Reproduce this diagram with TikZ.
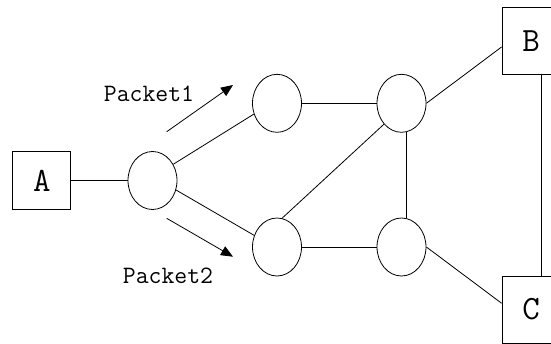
\documentclass[tikz,border=0pt]{standalone}
\usepackage{tikz}
\usetikzlibrary{shapes, arrows.meta, calc}

\begin{document}
\begin{tikzpicture}[x=1pt, y=-1pt, line width=0.8pt,
	router/.style={draw, ellipse, minimum width=49pt, minimum height=58pt, inner sep=0pt},
	host/.style={draw, rectangle, minimum width=58pt, minimum height=58pt, inner sep=0pt, font=\fontsize{34}{34}\selectfont\ttfamily},
	tallhost/.style={host, minimum height=67pt},
	packet/.style={anchor=base, inner sep=0pt, font=\fontsize{25}{25}\selectfont\ttfamily},
	flow/.style={-{Triangle[length=12pt, width=10pt]}}]
				\useasboundingbox (0,0) rectangle (551,343);
				
				\node [host] (A) at (41.8,180.5) {A};
				\node [tallhost] (B) at (531,40.7) {B};
				\node [tallhost] (C) at (531,309.5) {C};
				
				\node [router] (r1) at (152.5,180.5) {};
				\node [router] (r2) at (277,103.3) {};
				\node [router] (r3) at (277,247) {};
				\node [router] (r4) at (401.5,103.3) {};
				\node [router] (r5) at (401.5,247) {};
				
				\draw (A.east) -- (r1.west);
				\draw (r1.38) -- (r2.205);
				\draw (r1.-22) -- (r3.153);
				\draw (r2.east) -- (r4.west);
				\draw (r3.east) -- (r5.west);
				\draw (r3.80) -- (r4.230);
				\draw (r4.-80) -- (r5.80);
				\draw (r4.east) -- (B.192);
				\draw (r5.east) -- (C.168);
				\draw ([xshift=10pt]B.south) -- ([xshift=10pt]C.north);
				
				\coordinate (p1s) at (166.7,131.7);
				\coordinate (p1e) at (233,85);
				\coordinate (p2s) at (166.7,218.3);
				\coordinate (p2e) at (233,256.7);
				\draw [flow] (p1s) -- (p1e);
				\draw [flow] (p2s) -- (p2e);
				\node [packet] (pk1) at (149,101.7) {Packet1};
				\node [packet] (pk2) at (168,283) {Packet2};
\end{tikzpicture}
\end{document}
